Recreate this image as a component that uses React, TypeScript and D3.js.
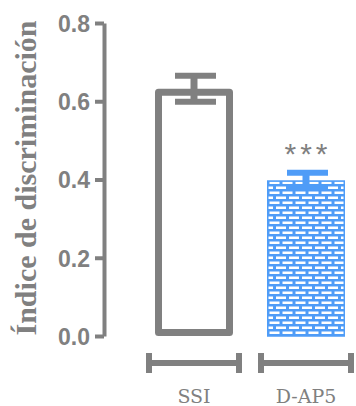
import React, { useRef, useEffect } from 'react';
import * as d3 from 'd3';

const groups = ['SSI', 'D-AP5'];
const means = [0.632, 0.398];
const sems = [0.033, 0.019];
const yTicks = [0, 0.2, 0.4, 0.6, 0.8];
const signif = ['', '***'];

const grey = '#808080';
const blue = '#4f9cf7';

function App() {
  const ref = useRef<SVGSVGElement>(null);
  const outerWidth = 356, outerHeight = 406;

  useEffect(() => {
    const svg = d3.select(ref.current);
    svg.selectAll('*').remove();

    const defs = svg.append('defs');
    const pat = defs.append('pattern')
      .attr('id', 'bricks')
      .attr('patternUnits', 'userSpaceOnUse')
      .attr('width', 13).attr('height', 10)
      .attr('x', 268).attr('y', 180);
    pat.append('rect').attr('width', 13).attr('height', 10).attr('fill', blue);
    pat.append('rect').attr('x', 1.5).attr('y', 1.5).attr('width', 10).attr('height', 2.5).attr('fill', '#fff');
    pat.append('rect').attr('x', -5).attr('y', 6.5).attr('width', 10).attr('height', 2.5).attr('fill', '#fff');
    pat.append('rect').attr('x', 8).attr('y', 6.5).attr('width', 10).attr('height', 2.5).attr('fill', '#fff');

    const y = d3.scaleLinear().domain([0, 0.8]).range([336, 23]);
    const x = d3.scalePoint().domain(groups).range([194, 306]);
    const bracketHalf = 48;
    const barHalf = 39;

    // y axis
    const yAxis = d3.axisLeft(y).tickValues(yTicks).tickFormat(d3.format('.1f')).tickSize(9).tickSizeOuter(0);
    const gy = svg.append('g').attr('transform', 'translate(104,0)').call(yAxis);
    gy.select('.domain').attr('stroke', grey).attr('stroke-width', 4);
    gy.selectAll('.tick line').attr('stroke', grey).attr('stroke-width', 4);
    gy.selectAll('.tick text')
      .attr('fill', grey)
      .attr('x', -14)
      .attr('dy', '0.36em')
      .style('font-family', 'Liberation Sans, Arial, sans-serif')
      .style('font-weight', 'bold')
      .style('font-size', '23px');

    svg.append('text')
      .attr('transform', 'translate(36,178) rotate(-90)')
      .attr('text-anchor', 'middle')
      .attr('fill', grey)
      .style('font-family', 'Liberation Serif, serif')
      .style('font-weight', 'bold')
      .style('font-size', '30px')
      .text('Índice de discriminación');

    // bars
    groups.forEach((g, i) => {
      const cx = x(g)!;
      const x0 = cx - barHalf, x1 = cx + barHalf;
      if (i === 0) {
        svg.append('rect')
          .attr('x', x0 + 3.5).attr('y', y(means[i]) + 3.5)
          .attr('width', x1 - x0 - 7).attr('height', y(0) - y(means[i]) - 7)
          .attr('fill', 'none').attr('stroke', grey).attr('stroke-width', 7)
          .attr('stroke-linejoin', 'round');
      } else {
        svg.append('rect')
          .attr('x', x0 + 0.75).attr('y', y(means[i]) + 0.75)
          .attr('width', x1 - x0 - 1.5).attr('height', y(0) - y(means[i]) - 0.75)
          .attr('fill', 'url(#bricks)').attr('stroke', blue).attr('stroke-width', 1.5);
      }
      const col = i === 0 ? grey : blue;
      const hi = y(means[i] + sems[i]), lo = y(means[i] - sems[i]);
      const eb = svg.append('g').attr('stroke', col).attr('stroke-width', 6);
      eb.append('line').attr('x1', cx).attr('x2', cx).attr('y1', hi).attr('y2', lo).attr('stroke-width', 7);
      [hi, lo].forEach(v => {
        eb.append('line').attr('x1', cx - 19).attr('x2', cx + 22).attr('y1', v).attr('y2', v);
      });
      if (signif[i]) {
        svg.append('text')
          .attr('x', cx + 2).attr('y', hi - 9)
          .attr('text-anchor', 'middle')
          .attr('fill', grey)
          .style('font-family', 'Liberation Sans, Arial, sans-serif')
          .style('font-size', '30px')
          .style('letter-spacing', '4px')
          .text(signif[i]);
      }
    });

    // category brackets
    groups.forEach(g => {
      const a = x(g)! - bracketHalf, b = x(g)! + bracketHalf;
      const gb = svg.append('g').attr('stroke', grey).attr('stroke-width', 6);
      gb.append('line').attr('x1', a).attr('x2', b).attr('y1', 363).attr('y2', 363);
      gb.append('line').attr('x1', a + 3).attr('x2', a + 3).attr('y1', 353).attr('y2', 373);
      gb.append('line').attr('x1', b - 3).attr('x2', b - 3).attr('y1', 353).attr('y2', 373);
      svg.append('text')
        .attr('x', x(g)!).attr('y', 403)
        .attr('text-anchor', 'middle')
        .attr('fill', grey)
        .style('font-family', 'DejaVu Serif, serif')
        .style('font-size', '19px')
        .text(g);
    });
  }, []);

  return (
    <svg ref={ref} width={outerWidth} height={outerHeight}
      style={{ position: 'absolute', left: 0, top: 0, background: '#fff' }} />
  );
}

export default App;
